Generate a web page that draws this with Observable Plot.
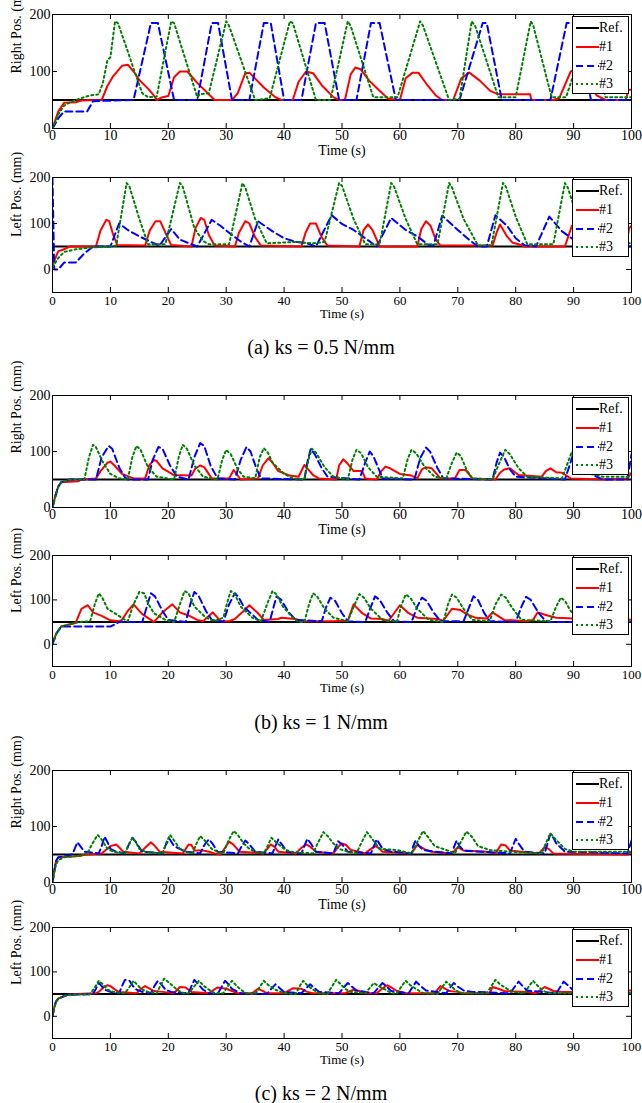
<!DOCTYPE html>
<html>
<head>
<meta charset="utf-8">
<script src="https://cdn.jsdelivr.net/npm/d3@7"></script>
<script src="https://cdn.jsdelivr.net/npm/@observablehq/plot@0.6"></script>
<style>
  html, body { margin: 0; padding: 0; background: #fff; }
  #wrap { position: relative; width: 642px; height: 1103px; background: #fff; overflow: hidden; font-family: "Liberation Serif", serif; }
  .pan { position: absolute; left: 0; }
  .cap { position: absolute; left: 0; width: 642px; text-align: center; font-size: 20px; line-height: 24px; color: #000; }
  .leg { position: absolute; background: #fff; border: 1px solid #000; box-sizing: border-box; }
  .leg .row { position: absolute; left: 0; height: 18px; width: 100%; }
  .leg svg { position: absolute; left: 2px; top: 0; }
  .leg span { position: absolute; left: 26px; top: 0; font-size: 14px; line-height: 18px; color: #000; }
</style>
</head>
<body>
<div id="wrap"></div>
<script>
// ---------- data ----------
const xTicks = [0,10,20,30,40,50,60,70,80,90,100];
const yTicks = [0,100,200];
const refLine = [[0,50],[100,50]];
const seriesNames = ["Ref.","#1","#2","#3"];
const captions = ["(a) ks = 0.5 N/mm","(b) ks = 1 N/mm","(c) ks = 2 N/mm"];

// (a) Right
const aRight1 = [[0,0],[1,30],[2,45],[4,46],[5,49],[8.5,50],[9.5,75],[10.5,92],[12,110],[13,112],[14,100],[15,85],[16.5,70],[17.5,58],[18,50],[19,55],[20,57],[21,90],[22,100],[23.3,100],[25,80],[27,60],[28,50],[31,50],[32,62],[33.3,97],[34,98],[36.5,72],[38.5,55],[39.5,50],[41.5,50],[42.5,82],[43.8,100],[45,97],[46.5,76],[48.5,55],[49.5,50],[50.5,50],[51.5,95],[52.3,107],[53.2,104],[54.7,84],[56.4,67],[58,52],[60,50],[61,88],[62.2,98],[63.2,98],[64.6,78],[66.2,58],[67.3,50],[69.2,50],[70.6,88],[72,98],[73.8,84],[75.6,66],[77,60],[82.5,60],[82.7,50],[86.5,50],[87.5,53],[89.5,100],[90.5,104],[92.5,85],[94,58],[95.5,50],[99,50],[99.5,68],[100,68]];
const aRight2 = [[0,0],[1,18],[2,30],[6,30],[7,48],[14,50],[17,185],[18.2,185],[21,50],[25,50],[27.5,185],[28.6,185],[31,50],[34,50],[36.5,185],[37.7,185],[40,50],[43,50],[45.5,185],[47,185],[49.5,50],[52.5,50],[55,185],[56.5,185],[59.3,50],[70.3,50],[74.3,185],[75,185],[77.6,50],[86,50],[88.8,185],[90.5,185],[93,50],[100,50]];
const aRight3 = [[0,0],[1,25],[2,40],[3,46],[4,50],[5.5,55],[6.5,58],[8,60],[8.7,80],[9.5,120],[10,125],[10.8,188],[11.3,185],[12.5,150],[14,105],[15.5,62],[16.5,55],[18,56],[20.5,188],[21,185],[25,55],[25.5,60],[27,62],[30,188],[30.5,180],[35,50],[37.5,53],[41,188],[41.5,185],[45.5,50],[48,50],[51,188],[51.5,180],[55.4,55],[59.6,55],[63.5,188],[64,180],[68.5,50],[70.3,52],[72.4,188],[73,180],[77,55],[80,55],[82.6,188],[83,182],[86.2,55],[88.7,55],[90,95],[92.3,188],[93,180],[95.5,55],[100,55]];

// (a) Left
const aLeft1 = [[0,10],[0.5,25],[1,40],[1.8,43],[3,50],[7.5,50],[8.3,85],[9.3,108],[9.8,105],[10.5,75],[11.2,53],[16,52],[16.8,85],[17.8,105],[18.6,105],[19.5,80],[20.5,53],[24,50],[24.7,90],[25.6,112],[26.2,108],[27,75],[28,52],[31.5,50],[32.2,80],[33.3,105],[34,100],[35,70],[36,52],[43,50],[43.7,80],[44.5,100],[45.5,100],[46.5,70],[47.5,52],[53,50],[53.7,85],[54.5,98],[55.3,85],[56.5,50],[63,50],[63.7,88],[64.5,105],[65.3,95],[66.2,65],[67,52],[76,52],[76.7,80],[77.3,98],[78.5,72],[79.5,58],[80.5,55],[81.5,50],[88.5,50],[89.7,95],[90.5,97],[92,60],[93,50],[99,50],[99.6,90],[100,95]];
const aLeft2 = [[0,200],[0.3,0],[1,0],[2,15],[4,15],[5.5,35],[7,50],[10,50],[11.5,100],[13,86],[15,72],[17.5,57],[18.5,52],[20.5,88],[22,65],[24,55],[25,50],[27.5,108],[29,95],[31,75],[32.5,61],[34,50],[35.5,105],[38,83],[40,68],[42,60],[44,57],[45.5,50],[48.2,118],[50,99],[52,86],[54,68],[56,50],[58.5,112],[61,86],[63,72],[65,53],[65.8,52],[67.3,117],[70,86],[72,64],[73.5,50],[75,50],[76.5,118],[78.5,95],[80,68],[81.5,53],[83.5,50],[85.8,115],[88,83],[90,65],[92,52],[100,50]];
const aLeft3 = [[0,5],[1,25],[2,38],[4,44],[7,48],[10,50],[11,52],[12.8,188],[13.3,180],[15,110],[16.5,55],[19.5,55],[22,188],[22.5,180],[24.5,90],[26,62],[27,55],[30.5,55],[32.8,188],[33.3,178],[35,110],[37,57],[42,60],[45,57],[47,60],[49.5,188],[50,182],[52,110],[54,55],[56.5,55],[58.5,188],[59,180],[61,110],[63,55],[66.5,55],[68.5,188],[69,178],[71,110],[73.5,52],[75.8,52],[77.8,188],[78.3,180],[80,115],[82,55],[86.5,55],[88.5,188],[89,178],[90.5,120],[92.5,57],[100,57]];

// (b) Right
const bRight1 = [[0,0],[0.5,22],[1,38],[1.5,45],[4.5,47],[5,50],[7.5,52],[8.3,65],[9.5,80],[10,82],[10.7,75],[12,60],[14,52],[16,52],[16.7,75],[17.5,85],[18,83],[19,70],[21,58],[24,57],[24.7,70],[25.5,75],[26.2,72],[27.5,52],[30.5,52],[31.3,67],[32.5,50],[35.5,52],[36.3,75],[37.3,88],[38,80],[39,65],[41,57],[42.5,55],[43.5,76],[44,70],[45,58],[46,52],[49,50],[49.5,75],[50.2,86],[51,78],[52,65],[53.5,65],[54,52],[56,50],[56.8,65],[57.5,73],[58.3,70],[60,60],[62,57],[63,52],[63.8,68],[64.5,72],[65.5,70],[67,52],[69.5,52],[70.3,67],[71.3,67],[72.5,52],[76.5,50],[77.3,62],[78,68],[79,70],[80.5,58],[84.5,55],[85.2,65],[86,70],[87,63],[88,62],[89.5,52],[95,50],[99.3,52],[100,62]];
const bRight2 = [[0,0],[0.5,20],[1,37],[1.5,45],[3,50],[7.5,50],[8.5,90],[9.7,110],[10.3,105],[11.5,72],[12.5,54],[13,50],[16.5,50],[17.3,85],[18.3,108],[19,105],[20.3,75],[21.5,55],[23.5,50],[24.5,90],[25.5,115],[26.2,110],[27.3,75],[28.5,52],[31.5,50],[32.5,85],[33.5,108],[34.2,100],[35.2,70],[36,52],[43.5,50],[44,80],[44.6,105],[45.3,95],[46.5,70],[47.5,55],[53,50],[54,80],[54.8,100],[55.5,90],[57,52],[62.5,50],[63.5,88],[64.5,107],[65.2,100],[66.5,70],[67.5,52],[76,50],[76.7,80],[77.3,98],[78,90],[79,68],[80,55],[88.5,50],[89.3,75],[90,98],[91,95],[93,60],[95,50],[99.3,50],[100,95]];
const bRight3 = [[0,0],[0.5,20],[1,37],[1.5,45],[3,50],[5.5,50],[6.3,90],[7,112],[7.5,108],[8.6,83],[10,60],[11.5,52],[13,50],[13.8,90],[14.5,110],[15.2,103],[16.5,72],[18,55],[21,50],[21.8,90],[22.5,112],[23.2,105],[24.5,75],[26,55],[28.5,50],[29.3,85],[30,103],[30.8,95],[32,68],[33,55],[35,52],[35.8,90],[36.5,106],[37.2,98],[38,80],[40,60],[41.5,52],[43.5,50],[44.2,85],[44.8,105],[45.5,98],[47,72],[48.5,55],[51,50],[51.8,85],[52.5,103],[53.3,97],[54.5,72],[56,55],[60.5,52],[61.3,85],[62,103],[62.8,97],[64.3,72],[66,55],[68,52],[69,80],[69.8,98],[70.5,92],[71.5,68],[72.5,52],[76,50],[77.2,80],[78.2,103],[79,95],[80.5,70],[82,55],[88,52],[89,80],[89.7,100],[91,90],[93,60],[95,55],[100,55]];

// (b) Left
const bLeft1 = [[0,5],[0.7,25],[1.5,40],[3,45],[4,48],[5,80],[6.1,88],[7,72],[8.5,64],[10,54],[11.5,52],[12,55],[13,75],[14,90],[15.5,68],[17,55],[17.5,50],[19,72],[20.7,90],[22,72],[23.5,65],[25,55],[26,52],[27.7,72],[29,52],[30.5,52],[31.5,57],[33,75],[34,88],[35.5,70],[36.5,55],[39,57],[39.5,60],[42,57],[43,52],[48,52],[51,53],[52,90],[53.5,70],[55,58],[57,57],[58,52],[60,88],[61.5,70],[63,60],[66.5,57],[67.5,53],[69,80],[70.5,77],[71.5,68],[73,60],[75,58],[76,72],[78,55],[82,52],[83,55],[83.8,72],[85.5,65],[87,60],[90,58],[95,57],[100,55]];
const bLeft2 = [[0,0],[0.7,25],[1.5,40],[10,40],[11.5,50],[15.5,50],[16.3,85],[17,115],[17.7,108],[19,75],[20,55],[23,50],[23.8,90],[24.5,118],[25.2,110],[26.5,75],[27.5,55],[29.5,50],[30.5,90],[31.5,115],[32.2,105],[33,85],[35.5,55],[37.5,50],[38.2,85],[38.7,108],[39.5,100],[40.8,72],[42,55],[46.5,52],[47.3,85],[48,105],[48.8,98],[50,70],[51,52],[54,50],[55,85],[55.7,108],[56.5,100],[57.8,72],[59,52],[62,50],[63,85],[63.8,105],[64.6,98],[65.8,72],[67,52],[71,52],[72,85],[72.7,108],[73.5,100],[74.5,72],[75.5,52],[80,50],[81,85],[81.8,107],[82.6,100],[84,70],[85,55],[86,50],[100,50]];
const bLeft3 = [[0,0],[0.7,25],[1.5,40],[3,45],[4.5,50],[6.5,52],[7.3,90],[8,115],[8.6,105],[9.5,80],[11,68],[12.5,55],[13,52],[14,90],[15,118],[15.8,115],[16.6,90],[17.5,70],[19.5,55],[21,50],[22,90],[22.8,120],[23.5,115],[24.5,85],[26.5,60],[28,52],[29.5,60],[30.3,100],[30.8,120],[31.5,112],[32.5,85],[34.5,60],[36,52],[37.2,95],[38,120],[38.7,112],[39.8,85],[41.5,60],[42.5,50],[43.5,50],[44.3,90],[45,115],[45.7,108],[47,80],[48.5,60],[51,52],[52.2,90],[53,113],[53.8,105],[55,80],[57,55],[59.5,52],[60.3,90],[61,112],[61.8,105],[63,80],[65,55],[67.5,50],[68.3,90],[69,112],[69.8,105],[71,80],[72.5,55],[75.5,52],[76.5,90],[77.5,112],[78.3,105],[79.5,80],[81,55],[86,52],[87,85],[87.8,105],[88.5,98],[89.5,75],[91,58],[93,52],[100,52]];

// (c) Right
const cRight1 = [[0,0],[0.3,20],[0.6,38],[1,45],[4,47],[6,50],[8.5,52],[9.2,58],[10,65],[11,68],[11.5,63],[12.2,55],[15,52],[16,62],[17,72],[17.7,65],[18.5,55],[22.5,52],[23.5,68],[24,67],[24.5,57],[26,57],[27,55],[28,52],[29,50],[29.8,62],[30.5,73],[31.2,68],[32.3,55],[36.5,52],[37.7,68],[38.3,64],[39,55],[42,52],[43,62],[43.8,68],[44.5,64],[45.5,55],[48.5,52],[49.3,63],[50,70],[50.7,67],[51.5,58],[53,55],[54,52],[55,60],[55.8,65],[56.3,62],[57,55],[62,52],[63,67],[63.7,63],[64.5,58],[65.5,55],[69,52],[70,63],[71,57],[75,55],[76.5,52],[77.5,68],[78.3,66],[79,57],[81,55],[84,52],[85,63],[85.7,60],[86.5,52],[99.3,50],[100,55]];
const cRight2 = [[0,0],[0.3,20],[0.6,38],[1,45],[3,48],[3.5,52],[4.3,72],[4.8,65],[5.5,55],[8,52],[8.5,65],[9,82],[9.5,72],[10,60],[11,55],[12.5,52],[13.2,68],[13.8,80],[14.4,72],[15.5,55],[19,52],[19.6,68],[20.2,78],[21,65],[22,60],[23,55],[25.5,52],[26.3,68],[27,77],[27.6,70],[28.5,55],[32,52],[32.7,65],[33.3,75],[34,68],[35,55],[38,52],[38.5,65],[39,77],[39.6,68],[40.5,55],[43,52],[43.5,65],[44,78],[44.6,70],[45.5,55],[48.5,52],[49,65],[49.3,74],[50,68],[51,55],[55,52],[55.5,65],[56,77],[57,60],[58.5,55],[62,52],[62.3,65],[62.7,75],[63.3,65],[64,58],[66,55],[69,52],[69.4,65],[69.8,75],[70.3,65],[71,57],[74,55],[79,52],[79.5,65],[80,78],[80.6,68],[81.5,55],[85,52],[85.5,70],[86,87],[86.5,80],[87,70],[88.5,55],[99.3,52],[100,75]];
const cRight3 = [[0,0],[0.3,18],[0.6,32],[1,40],[2,45],[5,48],[6,52],[6.8,68],[7.8,85],[8.4,78],[9.5,60],[10.5,55],[12.5,52],[13.2,68],[13.8,80],[14.4,72],[15,60],[16,55],[19,52],[19.6,70],[20.3,85],[21,75],[22,60],[23,55],[24.2,52],[24.8,68],[25.5,83],[26.3,75],[27.5,60],[28.5,55],[29.5,52],[30.4,75],[31.3,92],[32,85],[33,70],[34,60],[35,55],[36.5,52],[37.2,66],[37.8,80],[38.6,72],[40,60],[41,55],[45,52],[45.9,72],[46.8,90],[47.6,82],[48.5,70],[49.5,60],[51,55],[52.5,52],[53.4,72],[54.3,90],[55.2,78],[56.5,60],[59.5,58],[62,52],[63,72],[64,92],[64.8,82],[66,65],[68,58],[69.5,52],[70.5,72],[71.5,91],[72.4,82],[73.5,65],[75.5,58],[79,55],[84.5,52],[85.2,70],[86,88],[86.8,78],[88.5,60],[90,55],[100,55]];

// (c) Left
const cLeft1 = [[0,0],[0.3,20],[0.6,33],[1,40],[2.5,48],[4,50],[7.5,52],[8,55],[8.8,65],[9.5,70],[10,68],[10.8,60],[11.5,55],[14.5,52],[15.3,62],[16,68],[16.7,63],[17.5,57],[19,55],[21,52],[22,66],[23,65],[24,55],[27,52],[28.5,65],[30,62],[31,57],[32,52],[34.5,52],[35.5,62],[36.2,58],[37,52],[40,52],[41.5,63],[43,62],[44,55],[45,52],[50.5,52],[52,60],[53,57],[54,52],[56,52],[57,63],[57.8,70],[58.5,65],[59.5,57],[61,52],[66,52],[67,68],[67.7,63],[68.5,57],[70,55],[71,52],[75.5,52],[76,66],[77,62],[78,57],[82,55],[83.5,52],[85,66],[85.7,62],[86.5,57],[88,55],[95,55],[100,58]];
const cLeft2 = [[0,0],[0.3,20],[0.6,33],[1,40],[2.5,48],[7,50],[7.5,62],[8,75],[8.5,68],[9,60],[10,55],[11.5,52],[12,68],[12.5,82],[13.3,80],[13.9,68],[14.5,60],[15.5,55],[17,52],[17.6,68],[18.2,80],[18.8,72],[19.5,60],[20.5,55],[23.5,52],[24,68],[24.5,82],[25.2,72],[26,60],[27,52],[28.5,50],[29.2,66],[29.8,80],[30.4,72],[31,62],[32.5,52],[37,50],[37.8,62],[38.5,72],[39.2,64],[40,55],[43,52],[43.8,63],[44.5,72],[45.2,64],[46,55],[49.5,52],[50.3,65],[51,75],[51.7,67],[52.5,58],[55.5,52],[56.3,65],[57,75],[57.7,67],[58.5,57],[61.5,52],[62.2,66],[62.8,78],[63.6,68],[64.5,58],[68,52],[68.7,65],[69.3,75],[70,67],[71,58],[72.5,55],[79,52],[79.8,66],[80.5,78],[81.2,68],[82,58],[87,52],[87.7,66],[88.3,78],[89,70],[90,58],[92,52],[100,52]];
const cLeft3 = [[0,0],[0.3,18],[0.6,32],[1,40],[2.5,48],[6.5,50],[7.3,65],[8,80],[8.7,72],[9.5,60],[10.5,55],[12.5,52],[13.3,66],[14,80],[14.7,70],[15.5,60],[16.5,55],[18,52],[18.6,68],[19.3,85],[20.2,75],[21.5,60],[22.5,52],[23.5,52],[24.4,66],[25.3,80],[26,70],[27,60],[28,52],[29.5,52],[30.2,66],[31,80],[31.7,70],[32.5,60],[33.5,52],[35,50],[35.8,66],[36.5,80],[37.3,70],[38.5,60],[40,52],[42,50],[42.6,66],[43.3,80],[44,70],[45,60],[46,52],[47.5,50],[48.2,66],[49,82],[49.8,72],[50.5,62],[51.5,55],[54,52],[54.8,64],[55.5,75],[56.3,68],[57.5,60],[58.5,52],[59.5,52],[60.2,66],[61,80],[61.8,70],[63,60],[64,52],[66.5,50],[67.2,64],[68,78],[68.7,70],[69.5,60],[70.5,52],[75,52],[75.7,66],[76.5,82],[77.3,72],[78.5,62],[79.5,55],[81.5,52],[82.2,66],[83,80],[83.7,70],[84.5,60],[85.5,52],[100,52]];

// ---------- layout ----------
const FONT = "Liberation Serif, serif";
const W = 642, ML = 52, MR = 11, MT = 14, MB = 38;
const styles = [
  {stroke: "#000000", dash: undefined},
  {stroke: "#ff0000", dash: undefined},
  {stroke: "#0000ff", dash: "7,4"},
  {stroke: "#008000", dash: "2,3"}
];
const panels = [
  {s: [refLine, aRight1, aRight2, aRight3], label: "Right Pos. (mm)", ydom: [0,200], top: 14, h: 114, right: true},
  {s: [refLine, aLeft1, aLeft2, aLeft3], label: "Left Pos. (mm)", ydom: [-50,200], top: 177, h: 115, right: false},
  {s: [refLine, bRight1, bRight2, bRight3], label: "Right Pos. (mm)", ydom: [0,200], top: 395, h: 112, right: true},
  {s: [refLine, bLeft1, bLeft2, bLeft3], label: "Left Pos. (mm)", ydom: [-50,200], top: 555, h: 111, right: false},
  {s: [refLine, cRight1, cRight2, cRight3], label: "Right Pos. (mm)", ydom: [0,200], top: 770, h: 112, right: true},
  {s: [refLine, cLeft1, cLeft2, cLeft3], label: "Left Pos. (mm)", ydom: [-50,200], top: 927, h: 111, right: false}
];
const capY = [347, 722, 1093];

const wrap = document.getElementById("wrap");
const fw = W - ML - MR;

panels.forEach(p => {
  const fs = p.right ? 14 : 13;
  const chart = Plot.plot({
    width: W, height: MT + p.h + MB,
    marginTop: MT, marginBottom: MB, marginLeft: ML, marginRight: MR,
    x: {domain: [0, 100]},
    y: {domain: p.ydom},
    style: {fontFamily: FONT, fontSize: fs + "px", color: "#000", background: "transparent", overflow: "visible"},
    marks: [
      ...p.s.map((d, i) => Plot.line(d, {x: v => v[0], y: v => v[1], stroke: styles[i].stroke, strokeWidth: 2, strokeDasharray: styles[i].dash, strokeLinejoin: "round", clip: true})),
      Plot.frame({stroke: "#000", strokeWidth: 1}),
      Plot.ruleX(xTicks, {x: d => d, insetTop: p.h - 5, stroke: "#000"}),
      Plot.ruleX(xTicks, {x: d => d, insetBottom: p.h - 5, stroke: "#000"}),
      Plot.ruleY(yTicks, {y: d => d, insetRight: fw - 5, stroke: "#000"}),
      Plot.ruleY(yTicks, {y: d => d, insetLeft: fw - 5, stroke: "#000"}),
      Plot.axisX(xTicks, {tickSize: 0, tickPadding: p.right ? 2 : 3, label: null, fontSize: fs, fontFamily: FONT}),
      Plot.axisY(yTicks, {tickSize: 0, tickPadding: 2, label: null, fontSize: 14, fontFamily: FONT}),
      Plot.text(["Time (s)"], {text: d => d, frameAnchor: "bottom", dy: p.right ? 26 : 25, fontSize: fs, fontFamily: FONT, fill: "#000"}),
      Plot.text([p.label], {text: d => d, frameAnchor: "left", dx: -36, dy: 2, rotate: -90, fontSize: 14, fontFamily: FONT, fill: "#000"})
    ]
  });
  chart.classList.add("pan");
  chart.style.top = (p.top - MT) + "px";
  wrap.appendChild(chart);

  const leg = document.createElement("div");
  leg.className = "leg";
  leg.style.left = (W - MR - 59) + "px";
  leg.style.top = (p.top + 2) + "px";
  leg.style.width = "57px";
  leg.style.height = "78px";
  const rowsY = [2, 21, 40, 58];
  seriesNames.forEach((name, i) => {
    const row = document.createElement("div");
    row.className = "row";
    row.style.top = rowsY[i] + "px";
    const ns = "http://www.w3.org/2000/svg";
    const svg = document.createElementNS(ns, "svg");
    svg.setAttribute("width", "24"); svg.setAttribute("height", "18");
    const ln = document.createElementNS(ns, "line");
    ln.setAttribute("x1", "1"); ln.setAttribute("x2", "24");
    ln.setAttribute("y1", "9"); ln.setAttribute("y2", "9");
    ln.setAttribute("stroke", styles[i].stroke);
    ln.setAttribute("stroke-width", "2");
    if (styles[i].dash) ln.setAttribute("stroke-dasharray", styles[i].dash);
    svg.appendChild(ln);
    const sp = document.createElement("span");
    sp.textContent = name;
    row.appendChild(svg); row.appendChild(sp);
    leg.appendChild(row);
  });
  wrap.appendChild(leg);
});

captions.forEach((c, i) => {
  const d = document.createElement("div");
  d.className = "cap";
  d.style.top = (capY[i] - 12) + "px";
  d.textContent = c;
  wrap.appendChild(d);
});
</script>
</body>
</html>
